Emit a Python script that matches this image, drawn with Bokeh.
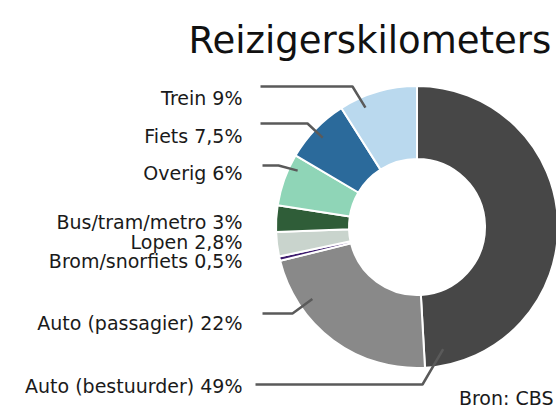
import math
from bokeh.plotting import figure
from bokeh.models import Range1d, ColumnDataSource
from bokeh.core.properties import value
from bokeh.embed import file_html
from bokeh.resources import INLINE

# ---- data (clockwise from 12 o'clock) ----
categories = ["Auto (bestuurder)", "Auto (passagier)", "Brom/snorfiets", "Lopen",
              "Bus/tram/metro", "Overig", "Fiets", "Trein"]
shares = [49, 22, 0.5, 2.8, 3, 6, 7.5, 9]
share_labels = ["49%", "22%", "0,5%", "2,8%", "3%", "6%", "7,5%", "9%"]
colors = ["#474747", "#898989", "#3d1c6e", "#c9d4cd", "#2f5d38", "#8fd5b7", "#2b6a9b", "#bad9ee"]

title_text = "Reizigerskilometers"
source_text = "Bron: CBS"

# ---- layout (reference pixel coordinates, y measured from top) ----
W, H = 556, 410
CX, CY = 416.5, 226.5
R_IN, R_OUT = 68, 141
FONT = "DejaVu Sans"
LABEL_RIGHT = 242
label_baseline = [385, 322, 260, 241.7, 221.7, 172, 135, 97]
# leader lines: (anchor fraction within slice, anchor radius, elbow x, line y, start x)
leaders = {
    0: (0.95, 125, 422, 384, 255),
    1: (0.74, 127, 292, 313, 262),
    5: (0.76, 132, 278, 165, 262),
    6: (0.48, 130, 307, 123, 260),
    7: (0.28, 130, 352, 86, 260),
}

def fy(y):  # convert from top-based pixel to data y
    return 410 - y

p = figure(width=W, height=H, output_backend="svg", toolbar_location=None,
           x_range=Range1d(0, W), y_range=Range1d(410 - H, 410),
           x_axis_type=None, y_axis_type=None, min_border=0)
p.outline_line_color = None
p.grid.visible = False
p.background_fill_color = "white"
p.border_fill_color = "white"

total = sum(shares)
cum = [0]
for s in shares:
    cum.append(cum[-1] + s)
starts = [math.pi / 2 - 2 * math.pi * c / total for c in cum[:-1]]
ends = [math.pi / 2 - 2 * math.pi * c / total for c in cum[1:]]

src = ColumnDataSource(dict(start=starts, end=ends, color=colors, cat=categories))
p.annular_wedge(x=CX, y=fy(CY), inner_radius=R_IN, outer_radius=R_OUT,
                start_angle="start", end_angle="end", direction="clock",
                fill_color="color", line_color="white", line_width=2, source=src)

# leader lines
for i, (frac, r, ex, ly, sx) in leaders.items():
    a = starts[i] + frac * (ends[i] - starts[i])
    ax = CX + r * math.cos(a)
    ay = fy(CY) + r * math.sin(a)
    p.line([sx, ex, ax], [fy(ly), fy(ly), ay], line_color="#5a5a5a", line_width=2.5)

# labels
texts = [f"{c} {l}" for c, l in zip(categories, share_labels)]
p.text(x=[LABEL_RIGHT] * len(texts), y=[fy(b) for b in label_baseline], text=texts,
       text_align="right", text_baseline="alphabetic", text_font=value(FONT),
       text_font_size="19px", text_color="#1a1a1a")

# title
p.text(x=[188], y=[fy(40)], text=[title_text], text_align="left", text_baseline="alphabetic",
       text_font=value(FONT), text_font_size="37px", text_color="#111111")

# source
p.text(x=[553], y=[fy(397)], text=[source_text], text_align="right", text_baseline="alphabetic",
       text_font=value(FONT), text_font_size="19px", text_color="#1a1a1a")

open("out.html", "w").write(file_html(p, INLINE))
